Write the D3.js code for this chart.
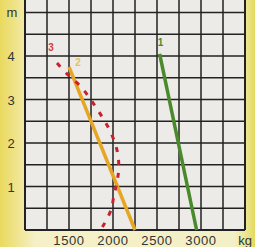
<!DOCTYPE html>
<html>
<head>
<meta charset="utf-8">
<script src="https://cdn.jsdelivr.net/npm/d3@7"></script>
<style>
  html, body { margin: 0; padding: 0; background: #f3eec4; }
  svg { display: block; }
</style>
</head>
<body>
<script>
// data
const xTicks = [1500, 2000, 2500, 3000];
const yTicks = [1, 2, 3, 4];
const curve1 = [[2530, 4.05], [2950, 0]];
const curve2 = [[1500, 3.75], [2250, 0]];
const curve3 = [[1364, 3.84], [1477, 3.59], [1636, 3.29], [1750, 2.99], [1864, 2.64],
  [1966, 2.28], [2045, 1.84], [2066, 1.45], [2045, 1.10], [2011, 0.80], [1977, 0.46], [1875, 0.05]];
const curveLabels = ["1", "2", "3"];

const w = 255, h = 247;
const svg = d3.select("body").append("svg")
  .attr("width", w).attr("height", h)
  .attr("viewBox", [0, 0, w, h]);

const x = d3.scaleLinear().domain([1000, 3500]).range([25, 245]);
const y = d3.scaleLinear().domain([0, 5]).range([230, 12.5]);
const font = "Liberation Sans, Arial, sans-serif";

// yellowish paper behind
const defs = svg.append("defs");
const g1 = defs.append("linearGradient").attr("id", "bgx");
[["0%", "#e9d95e"], ["9%", "#f2e8a0"], ["14%", "#f5f0c8"], ["92%", "#f3efc6"], ["97%", "#ebe48a"], ["100%", "#e3da5c"]]
  .forEach(s => g1.append("stop").attr("offset", s[0]).attr("stop-color", s[1]));
svg.append("rect").attr("width", w).attr("height", h).attr("fill", "url(#bgx)");

// plot paper
svg.append("rect")
  .attr("x", x(1000)).attr("y", 0)
  .attr("width", x(3500) - x(1000)).attr("height", y(0))
  .attr("fill", "#ecebe7");

// grid
const vx = d3.range(1000, 3501, 250);
svg.selectAll(".vline").data(vx).enter().append("line")
  .attr("x1", d => x(d)).attr("x2", d => x(d))
  .attr("y1", 0).attr("y2", y(0))
  .attr("stroke", "#222").attr("stroke-width", d => (d === 1000 || d === 3500) ? 2 : 1.5);
const hy = d3.range(0, 5.01, 0.5);
svg.selectAll(".hline").data(hy).enter().append("line")
  .attr("x1", x(1000)).attr("x2", x(3500))
  .attr("y1", d => y(d)).attr("y2", d => y(d))
  .attr("stroke", "#222").attr("stroke-width", d => d === 0 ? 2 : 1.5);

// axis labels
svg.selectAll(".xt").data(xTicks).enter().append("text")
  .attr("x", d => x(d)).attr("y", 245)
  .attr("text-anchor", "middle")
  .attr("font-family", font).attr("letter-spacing", 0.6)
  .attr("font-size", 13).attr("fill", "#333")
  .text(d => d);
svg.append("text").attr("x", x(3500)).attr("y", 245)
  .attr("text-anchor", "middle")
  .attr("font-family", font)
  .attr("font-size", 13).attr("fill", "#333").text("kg");
svg.selectAll(".yt").data(yTicks).enter().append("text")
  .attr("x", 11).attr("y", d => y(d) + 5)
  .attr("text-anchor", "middle")
  .attr("font-family", font)
  .attr("font-size", 13).attr("fill", "#333")
  .text(d => d);
svg.append("text").attr("x", 12).attr("y", y(5) + 4)
  .attr("text-anchor", "middle")
  .attr("font-family", font)
  .attr("font-size", 13).attr("fill", "#333").text("m");

// curves
const line = d3.line().x(d => x(d[0])).y(d => y(d[1]));
const smooth = d3.line().x(d => x(d[0])).y(d => y(d[1])).curve(d3.curveCatmullRom);

svg.append("path").attr("d", line(curve1))
  .attr("fill", "none").attr("stroke", "#4b8a2c").attr("stroke-width", 3.5);
svg.append("path").attr("d", line(curve2))
  .attr("fill", "none").attr("stroke", "#e6a623").attr("stroke-width", 3.5);
svg.append("path").attr("d", smooth(curve3))
  .attr("fill", "none").attr("stroke", "#c8202e").attr("stroke-width", 3)
  .attr("stroke-dasharray", "5,8");

// curve numbers
const labelPos = [[curve1[0], 1, -8, "#4b8a2c"], [curve2[0], 9, -1, "#e2c25a"], [curve3[0], -6, -12, "#d83a4a"]];
svg.selectAll(".cl").data(labelPos).enter().append("text")
  .attr("x", d => x(d[0][0]) + d[1]).attr("y", d => y(d[0][1]) + d[2])
  .attr("text-anchor", "middle")
  .attr("font-family", font)
  .attr("font-weight", "bold")
  .attr("font-size", 10).attr("fill", d => d[3])
  .text((d, i) => curveLabels[i]);
</script>
</body>
</html>
